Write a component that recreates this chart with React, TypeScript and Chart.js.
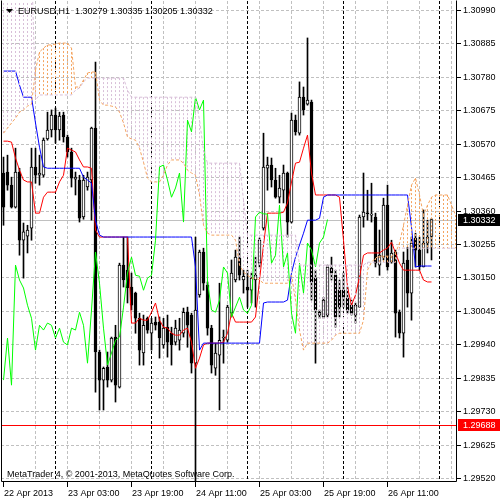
import React, { useEffect, useRef } from "react";
import { Chart, registerables } from "chart.js";
Chart.register(...registerables);

// ---------- DATA (EURUSD H1, bars 0..107) ----------
const open = [
  1.30478, 1.30481, 1.30440, 1.30371, 1.30481, 1.30267, 1.30280, 1.30305, 1.30497, 1.30471,
  1.30471, 1.30585, 1.30613, 1.30660, 1.30613, 1.30660, 1.30591, 1.30544, 1.30459, 1.30456,
  1.30340, 1.30434, 1.30456, 1.30619, 1.29916, 1.29828, 1.29869, 1.29828, 1.29963, 1.29806,
  1.30189, 1.30173, 1.30120, 1.30101, 1.30022, 1.29913, 1.30022, 1.29975, 1.30010, 1.30010,
  1.29938, 1.29994, 1.29975, 1.29947, 1.29953, 1.29975, 1.30041, 1.30032, 1.29881, 1.30095,
  1.30230, 1.30126, 1.29991, 1.29865, 1.29906, 1.29960, 1.29953, 1.30038, 1.30142, 1.30211,
  1.30142, 1.30120, 1.30110, 1.30142, 1.30195, 1.30305, 1.30493, 1.30503, 1.30456, 1.30402,
  1.30424, 1.30478, 1.30324, 1.30644, 1.30603, 1.30716, 1.30694, 1.30701, 1.30148, 1.30032,
  1.30026, 1.30032, 1.30179, 1.30157, 1.30110, 1.30110, 1.30085, 1.30063, 1.30032, 1.30057,
  1.30340, 1.30352, 1.30346, 1.30340, 1.30189, 1.30214, 1.30377, 1.30198, 1.30230, 1.30041,
  1.29975, 1.30205, 1.30101, 1.30274, 1.30236, 1.30183, 1.30258, 1.30279,
];
const high = [
  1.30528, 1.30534, 1.30465, 1.30556, 1.30493, 1.30321, 1.30314, 1.30556, 1.30556, 1.30534,
  1.30588, 1.30669, 1.30676, 1.30682, 1.30669, 1.30669, 1.30597, 1.30556, 1.30481, 1.30471,
  1.30471, 1.30481, 1.30622, 1.30826, 1.29922, 1.29869, 1.29916, 1.29963, 1.30000, 1.30195,
  1.30277, 1.30277, 1.30164, 1.30104, 1.30038, 1.30032, 1.30026, 1.30022, 1.30026, 1.30026,
  1.30022, 1.30032, 1.29994, 1.30016, 1.30022, 1.30054, 1.30057, 1.30038, 1.30277, 1.30236,
  1.30242, 1.30136, 1.30000, 1.29944, 1.30132, 1.29985, 1.30063, 1.30205, 1.30236, 1.30277,
  1.30173, 1.30173, 1.30164, 1.30214, 1.30274, 1.30603, 1.30528, 1.30525, 1.30493, 1.30471,
  1.30503, 1.30481, 1.30666, 1.30660, 1.30764, 1.30748, 1.30902, 1.30707, 1.30173, 1.30048,
  1.30088, 1.30189, 1.30214, 1.30173, 1.30142, 1.30164, 1.30120, 1.30079, 1.30070, 1.30346,
  1.30478, 1.30424, 1.30446, 1.30352, 1.30299, 1.30399, 1.30440, 1.30267, 1.30236, 1.30048,
  1.30230, 1.30245, 1.30277, 1.30289, 1.30277, 1.30362, 1.30330, 1.30335,
];
const low = [
  1.30314, 1.30424, 1.30368, 1.30368, 1.30220, 1.30148, 1.30227, 1.30267, 1.30446, 1.30440,
  1.30465, 1.30581, 1.30591, 1.30572, 1.30581, 1.30575, 1.30528, 1.30434, 1.30409, 1.30324,
  1.30333, 1.30424, 1.30330, 1.29790, 1.29734, 1.29734, 1.29806, 1.29822, 1.29759, 1.29803,
  1.30120, 1.30070, 1.30048, 1.29975, 1.29875, 1.29875, 1.29975, 1.29922, 1.29985, 1.29897,
  1.29928, 1.29900, 1.29875, 1.29938, 1.29922, 1.29963, 1.29931, 1.29850, 1.29388, 1.30088,
  1.30110, 1.29969, 1.29850, 1.29843, 1.29734, 1.29881, 1.29947, 1.30026, 1.30136, 1.30142,
  1.30101, 1.30057, 1.30070, 1.30057, 1.30183, 1.30299, 1.30424, 1.30434, 1.30399, 1.30384,
  1.30384, 1.30277, 1.30321, 1.30597, 1.30597, 1.30660, 1.30691, 1.30079, 1.29881, 1.30022,
  1.30022, 1.30026, 1.30142, 1.29994, 1.30026, 1.30057, 1.30038, 1.30032, 1.30007, 1.30057,
  1.30308, 1.30330, 1.30324, 1.30183, 1.30157, 1.30205, 1.30173, 1.30195, 1.29963, 1.29960,
  1.29900, 1.30057, 1.30016, 1.30183, 1.30173, 1.30183, 1.30227, 1.30205,
];
const close = [
  1.30371, 1.30440, 1.30371, 1.30481, 1.30267, 1.30293, 1.30299, 1.30497, 1.30471, 1.30478,
  1.30581, 1.30613, 1.30660, 1.30613, 1.30657, 1.30591, 1.30544, 1.30462, 1.30465, 1.30336,
  1.30456, 1.30465, 1.30619, 1.29916, 1.29828, 1.29865, 1.29828, 1.29960, 1.29812, 1.30189,
  1.30142, 1.30117, 1.30063, 1.30022, 1.29922, 1.30000, 1.29985, 1.30007, 1.30000, 1.29960,
  1.29991, 1.29947, 1.29938, 1.29991, 1.29985, 1.30041, 1.30000, 1.29881, 1.30048, 1.30230,
  1.30132, 1.29991, 1.29875, 1.29913, 1.29953, 1.29963, 1.30057, 1.30164, 1.30214, 1.30157,
  1.30154, 1.30110, 1.30148, 1.30157, 1.30267, 1.30497, 1.30503, 1.30456, 1.30402, 1.30431,
  1.30478, 1.30324, 1.30644, 1.30607, 1.30716, 1.30676, 1.30707, 1.30136, 1.30048, 1.30041,
  1.30079, 1.30183, 1.30164, 1.30026, 1.30057, 1.30088, 1.30048, 1.30038, 1.30063, 1.30340,
  1.30355, 1.30350, 1.30349, 1.30195, 1.30220, 1.30377, 1.30183, 1.30227, 1.30038, 1.29975,
  1.30195, 1.30101, 1.30258, 1.30236, 1.30183, 1.30258, 1.30277, 1.30332,
];
// Tenkan-sen (red)
const tenkan = [
  1.30578, 1.30578, 1.30575, 1.30525, 1.30487, 1.30456, 1.30450, 1.30450, 1.30352, 1.30352,
  1.30402, 1.30418, 1.30418, 1.30418, 1.30450, 1.30471, 1.30556, 1.30550, 1.30544, 1.30519,
  1.30497, 1.30497, 1.30493, 1.30299, 1.30277, 1.30277, 1.30277, 1.30277, 1.30277, 1.30277,
  1.30277, 1.30277, 1.30007, 1.30007, 1.30022, 1.30016, 1.30016, 1.30041, 1.30070, 1.30016,
  1.29994, 1.29991, 1.29975, 1.29969, 1.29969, 1.29985, 1.29991, 1.29947, 1.29865, 1.29897,
  1.29938, 1.29944, 1.29944, 1.29944, 1.29944, 1.29947, 1.29975, 1.30038, 1.30010, 1.30010,
  1.30010, 1.30010, 1.30010, 1.30026, 1.30142, 1.30252, 1.30352, 1.30352, 1.30352, 1.30352,
  1.30355, 1.30384, 1.30450, 1.30509, 1.30512, 1.30556, 1.30597, 1.30478, 1.30409, 1.30409,
  1.30409, 1.30409, 1.30409, 1.30409, 1.30402, 1.30267, 1.30120, 1.30063, 1.30095, 1.30151,
  1.30220, 1.30227, 1.30227, 1.30227, 1.30227, 1.30236, 1.30242, 1.30261, 1.30227, 1.30195,
  1.30173, 1.30173, 1.30173, 1.30173, 1.30173, 1.30142, 1.30136, 1.30136,
];
// Kijun-sen (blue)
const kijun = [
  1.30798, 1.30798, 1.30798, 1.30798, 1.30754, 1.30716, 1.30716, 1.30716, 1.30635, 1.30559,
  1.30497, 1.30493, 1.30493, 1.30493, 1.30493, 1.30493, 1.30493, 1.30493, 1.30493, 1.30493,
  1.30465, 1.30456, 1.30446, 1.30330, 1.30283, 1.30277, 1.30277, 1.30277, 1.30277, 1.30277,
  1.30277, 1.30277, 1.30277, 1.30277, 1.30277, 1.30277, 1.30277, 1.30277, 1.30277, 1.30277,
  1.30277, 1.30277, 1.30277, 1.30277, 1.30277, 1.30277, 1.30277, 1.30277, 1.30183, 1.29922,
  1.29944, 1.29944, 1.29944, 1.29944, 1.29944, 1.29944, 1.29944, 1.29944, 1.29944, 1.29944,
  1.29944, 1.29944, 1.29944, 1.29944, 1.29944, 1.30070, 1.30073, 1.30073, 1.30073, 1.30073,
  1.30073, 1.30079, 1.30164, 1.30214, 1.30252, 1.30289, 1.30330, 1.30330, 1.30330, 1.30336,
  1.30402, 1.30409, 1.30409, 1.30409, 1.30409, 1.30409, 1.30409, 1.30409, 1.30409, 1.30409,
  1.30409, 1.30409, 1.30409, 1.30409, 1.30409, 1.30409, 1.30409, 1.30409, 1.30409, 1.30409,
  1.30409, 1.30409, 1.30308, 1.30183, 1.30186, 1.30186, 1.30186, 1.30186,
];
// Senkou Span A / B as displayed (already shifted forward), slots 0..113
const spanA = [
  1.30603, 1.30619, 1.30635, 1.30650, 1.30669, 1.30676, 1.30688, 1.30694, 1.30801, 1.30858,
  1.30870, 1.30880, 1.30880, 1.30883, 1.30886, 1.30886, 1.30886, 1.30870, 1.30748, 1.30748,
  1.30770, 1.30792, 1.30795, 1.30795, 1.30707, 1.30691, 1.30691, 1.30688, 1.30685, 1.30669,
  1.30635, 1.30591, 1.30585, 1.30581, 1.30556, 1.30512, 1.30462, 1.30450, 1.30450, 1.30450,
  1.30471, 1.30503, 1.30519, 1.30519, 1.30519, 1.30509, 1.30487, 1.30478, 1.30471, 1.30409,
  1.30314, 1.30289, 1.30283, 1.30283, 1.30283, 1.30283, 1.30283, 1.30283, 1.30267, 1.30189,
  1.30167, 1.30157, 1.30148, 1.30148, 1.30142, 1.30132, 1.30132, 1.30132, 1.30132, 1.30132,
  1.30132, 1.30132, 1.30157, 1.30079, 1.29985, 1.29922, 1.29944, 1.29944, 1.29944, 1.29944,
  1.29944, 1.29944, 1.29953, 1.29969, 1.29975, 1.29975, 1.29975, 1.29975, 1.29975, 1.29975,
  1.30016, 1.30173, 1.30198, 1.30211, 1.30217, 1.30217, 1.30217, 1.30217, 1.30227, 1.30258,
  1.30314, 1.30377, 1.30440, 1.30462, 1.30409, 1.30346, 1.30377, 1.30402, 1.30409, 1.30409,
  1.30409, 1.30409, 1.30377, 1.30346,
];
const spanB = [
  1.31147, 1.31147, 1.31147, 1.31147, 1.31147, 1.31147, 1.31147, 1.31147, 1.30707, 1.30723,
  1.30723, 1.30723, 1.30723, 1.30723, 1.30723, 1.30723, 1.30723, 1.30723, 1.30738, 1.30745,
  1.30764, 1.30776, 1.30776, 1.30776, 1.30776, 1.30776, 1.30776, 1.30776, 1.30776, 1.30776,
  1.30776, 1.30738, 1.30716, 1.30716, 1.30716, 1.30716, 1.30716, 1.30716, 1.30716, 1.30716,
  1.30716, 1.30716, 1.30716, 1.30716, 1.30716, 1.30716, 1.30716, 1.30716, 1.30716, 1.30644,
  1.30550, 1.30509, 1.30509, 1.30509, 1.30509, 1.30509, 1.30509, 1.30509, 1.30509, 1.30509,
  1.30393, 1.30283, 1.30283, 1.30283, 1.30283, 1.30283, 1.30283, 1.30283, 1.30283, 1.30283,
  1.30283, 1.30283, 1.30283, 1.30283, 1.30189, 1.30189, 1.30189, 1.30189, 1.30189, 1.30189,
  1.30189, 1.30189, 1.30189, 1.30189, 1.30189, 1.30189, 1.30189, 1.30189, 1.30189, 1.30189,
  1.30189, 1.30198, 1.30198, 1.30198, 1.30198, 1.30198, 1.30198, 1.30198, 1.30198, 1.30242,
  1.30242, 1.30242, 1.30242, 1.30242, 1.30242, 1.30242, 1.30242, 1.30242, 1.30242, 1.30242,
  1.30242, 1.30242, 1.30242, 1.30242,
];
const chikouShift = 26;

const yTicks = [
  1.29520, 1.29625, 1.29730, 1.29835, 1.29940, 1.30045, 1.30150, 1.30255,
  1.30360, 1.30465, 1.30570, 1.30675, 1.30780, 1.30885, 1.30990,
];
const xTickIndex = [0, 16, 32, 48, 64, 80, 96];
const xTickLabels = [
  "22 Apr 2013", "23 Apr 03:00", "23 Apr 19:00", "24 Apr 11:00",
  "25 Apr 03:00", "25 Apr 19:00", "26 Apr 11:00",
];
const daySeparators = [13, 37, 61, 85, 109];
const gridStep = 8;
const lastSlot = 113;
const bidPrice = 1.30332;
const hLinePrice = 1.29688;
const titleText = "EURUSD,H1  1.30279 1.30335 1.30205 1.30332";
const copyrightText = "MetaTrader 4, \u00A9 2001-2013, MetaQuotes Software Corp.";

const SANDY = "#f4a460";
const THISTLE = "#d8bfd8";
const FONT = '9px "Liberation Sans", Arial, sans-serif';
const KIJUN_INDEX = 3;

const mtPlugin = {
  id: "mt4",
  beforeDatasetsDraw(chart: any) {
    const { ctx, chartArea: a, scales } = chart;
    const x = scales.x, y = scales.y;
    ctx.save();
    ctx.beginPath();
    ctx.rect(a.left, a.top, a.right - a.left, a.bottom - a.top);
    ctx.clip();
    ctx.lineWidth = 1;
    ctx.setLineDash([3, 2]);
    ctx.strokeStyle = "#c0c0c0";
    for (const t of yTicks) {
      const py = Math.round(y.getPixelForValue(t)) + 0.5;
      ctx.beginPath(); ctx.moveTo(a.left, py); ctx.lineTo(a.right, py); ctx.stroke();
    }
    for (let k = gridStep; k <= lastSlot; k += gridStep) {
      const px = Math.floor(x.getPixelForValue(k)) + 0.5;
      ctx.beginPath(); ctx.moveTo(px, a.top); ctx.lineTo(px, a.bottom); ctx.stroke();
    }
    ctx.strokeStyle = "#000";
    for (const k of daySeparators) {
      const px = Math.floor(x.getPixelForValue(k)) + 0.5;
      ctx.beginPath(); ctx.moveTo(px, a.top); ctx.lineTo(px, a.bottom); ctx.stroke();
    }
    ctx.setLineDash([]);
    ctx.strokeStyle = "#c0c0c0";
    let py = Math.round(y.getPixelForValue(bidPrice)) + 0.5;
    ctx.beginPath(); ctx.moveTo(a.left, py); ctx.lineTo(a.right, py); ctx.stroke();
    ctx.strokeStyle = "#ff0000";
    py = Math.round(y.getPixelForValue(hLinePrice)) + 0.5;
    ctx.beginPath(); ctx.moveTo(a.left, py); ctx.lineTo(a.right, py); ctx.stroke();
    ctx.restore();
  },
  afterDatasetDraw(chart: any, args: any) {
    if (args.index !== KIJUN_INDEX) return;
    const { ctx, chartArea: a, scales } = chart;
    const x = scales.x, y = scales.y;
    ctx.save();
    ctx.beginPath();
    ctx.rect(a.left, a.top, a.right - a.left, a.bottom - a.top);
    ctx.clip();
    ctx.lineWidth = 1;
    ctx.setLineDash([2, 2]);
    for (let k = 0; k < spanA.length; k++) {
      const px = Math.floor(x.getPixelForValue(k)) + 0.5;
      const ya = y.getPixelForValue(spanA[k]);
      const yb = y.getPixelForValue(spanB[k]);
      ctx.strokeStyle = spanA[k] >= spanB[k] ? SANDY : THISTLE;
      ctx.beginPath();
      ctx.moveTo(px, Math.max(Math.min(ya, yb), a.top - 2));
      ctx.lineTo(px, Math.max(ya, yb));
      ctx.stroke();
    }
    ctx.restore();
  },
  afterDraw(chart: any) {
    const { ctx, chartArea: a, scales } = chart;
    const x = scales.x, y = scales.y;
    ctx.save();
    ctx.lineWidth = 1;
    ctx.setLineDash([]);
    ctx.strokeStyle = "#000";
    // frame
    ctx.beginPath();
    ctx.moveTo(a.left + 0.5, a.top - 0.5);
    ctx.lineTo(a.left + 0.5, a.bottom - 0.5);
    ctx.lineTo(a.right - 0.5, a.bottom - 0.5);
    ctx.lineTo(a.right - 0.5, a.top - 0.5);
    ctx.stroke();
    ctx.font = FONT;
    ctx.fillStyle = "#000";
    // right price axis
    ctx.textBaseline = "middle";
    ctx.textAlign = "left";
    for (const t of yTicks) {
      const py = Math.round(y.getPixelForValue(t)) + 0.5;
      ctx.beginPath(); ctx.moveTo(a.right, py); ctx.lineTo(a.right + 4, py); ctx.stroke();
      ctx.fillText(t.toFixed(5), a.right + 6, py);
    }
    // bottom time axis
    ctx.textBaseline = "alphabetic";
    xTickIndex.forEach((k, j) => {
      const px = Math.floor(x.getPixelForValue(k)) + 0.5;
      ctx.beginPath(); ctx.moveTo(px, a.bottom); ctx.lineTo(px, a.bottom + 5); ctx.stroke();
      ctx.fillText(xTickLabels[j], px + 0.5, a.bottom + 14);
    });
    // price boxes
    const boxes = [
      { v: bidPrice, bg: "#000" },
      { v: hLinePrice, bg: "#ff0000" },
    ];
    ctx.textBaseline = "middle";
    for (const b of boxes) {
      const py = Math.round(y.getPixelForValue(b.v));
      ctx.fillStyle = b.bg;
      ctx.fillRect(a.right + 1, py - 6, 42, 12);
      ctx.fillStyle = "#fff";
      ctx.fillText(b.v.toFixed(5), a.right + 6, py + 0.5);
    }
    // title
    ctx.fillStyle = "#000";
    ctx.beginPath();
    ctx.moveTo(a.left + 5, 9); ctx.lineTo(a.left + 12, 9); ctx.lineTo(a.left + 8.5, 13);
    ctx.closePath(); ctx.fill();
    ctx.textBaseline = "alphabetic";
    ctx.fillText(titleText, a.left + 17, 14);
    ctx.fillText(copyrightText, a.left + 6, a.bottom - 5);
    ctx.restore();
  },
};

export default function App() {
  const ref = useRef<HTMLCanvasElement>(null);
  useEffect(() => {
    const canvas = ref.current;
    if (!canvas) return;
    const idx = close.map((_, i) => i);
    const bodyData = idx.map((i) => ({ x: i, y: [open[i], close[i]] }));
    const wickData = idx.map((i) => ({ x: i, y: [low[i], high[i]] }));
    const chikouData = close.slice(chikouShift).map((c, j) => ({ x: j, y: c }));
    const line = (data: any[], color: string, order: number, dash: number[] = []) => ({
      type: "line",
      data,
      borderColor: color,
      borderWidth: 1,
      borderDash: dash,
      pointRadius: 0,
      tension: 0,
      fill: false,
      order,
    });
    const chart = new Chart(canvas, {
      type: "bar",
      data: {
        datasets: [
          line(spanB.map((v, k) => ({ x: k, y: v })), THISTLE, 0, [3, 2]) as any,
          line(spanA.map((v, k) => ({ x: k, y: v })), SANDY, 1, [3, 2]) as any,
          line(chikouData, "#00ff00", 2) as any,
          line(kijun.map((v, i) => ({ x: i, y: v })), "#0000ff", 3) as any,
          line(tenkan.map((v, i) => ({ x: i, y: v })), "#ff0000", 4) as any,
          {
            type: "bar",
            data: bodyData,
            backgroundColor: idx.map((i) => (close[i] >= open[i] ? "#ffffff" : "#000000")),
            borderColor: "#000000",
            borderWidth: 1,
            borderSkipped: false,
            barThickness: 3,
            minBarLength: 1,
            grouped: false,
            order: 5,
          } as any,
          {
            type: "bar",
            data: wickData,
            backgroundColor: "#000000",
            borderWidth: 0,
            barThickness: 1,
            grouped: false,
            order: 6,
          } as any,
        ],
      },
      options: {
        responsive: false,
        animation: false,
        devicePixelRatio: 1,
        events: [],
        layout: { padding: { left: 1, right: 43, top: 1, bottom: 18 } },
        plugins: { legend: { display: false }, tooltip: { enabled: false } },
        scales: {
          x: { type: "linear", min: -0.625, max: 113.375, offset: false, display: false },
          y: { type: "linear", min: 1.29508, max: 1.31018, display: false },
        },
      } as any,
      plugins: [mtPlugin as any],
    });
    return () => chart.destroy();
  }, []);
  return (
    <canvas
      ref={ref}
      width={500}
      height={500}
      style={{ position: "absolute", left: 0, top: 0, width: 500, height: 500, background: "#fff" }}
    />
  );
}
